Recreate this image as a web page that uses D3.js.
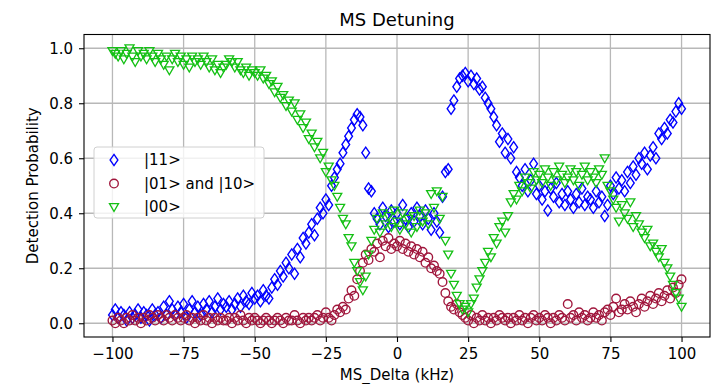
<!DOCTYPE html>
<html>
<head>
<meta charset="utf-8">
<script src="https://cdn.jsdelivr.net/npm/d3@7"></script>
<style>
	body { margin: 0; background: #fff; }
	text { font-family: "DejaVu Sans", sans-serif; fill: #000; }
</style>
</head>
<body>
<div id="chartDiv"></div>
<script>

// Detuning sweep (kHz), one point per kHz:
var detuning = [
	-100, -99, -98, -97, -96, -95, -94, -93, -92, -91, -90, -89, -88, -87, -86, -85, -84, -83, -82, -81,
	-80, -79, -78, -77, -76, -75, -74, -73, -72, -71, -70, -69, -68, -67, -66, -65, -64, -63, -62, -61,
	-60, -59, -58, -57, -56, -55, -54, -53, -52, -51, -50, -49, -48, -47, -46, -45, -44, -43, -42, -41,
	-40, -39, -38, -37, -36, -35, -34, -33, -32, -31, -30, -29, -28, -27, -26, -25, -24, -23, -22, -21,
	-20, -19, -18, -17, -16, -15, -14, -13, -12, -11, -10, -9, -8, -7, -6, -5, -4, -3, -2, -1,
	0, 1, 2, 3, 4, 5, 6, 7, 8, 9, 10, 11, 12, 13, 14, 15, 16, 17, 18, 19,
	20, 21, 22, 23, 24, 25, 26, 27, 28, 29, 30, 31, 32, 33, 34, 35, 36, 37, 38, 39,
	40, 41, 42, 43, 44, 45, 46, 47, 48, 49, 50, 51, 52, 53, 54, 55, 56, 57, 58, 59,
	60, 61, 62, 63, 64, 65, 66, 67, 68, 69, 70, 71, 72, 73, 74, 75, 76, 77, 78, 79,
	80, 81, 82, 83, 84, 85, 86, 87, 88, 89, 90, 91, 92, 93, 94, 95, 96, 97, 98, 99,
	100
];

// |11>
var p11 = [
	0.03, 0.05, 0.02, 0.04, 0.03, 0.01, 0.04, 0.02, 0.03, 0.05,
	0.02, 0.04, 0.03, 0.01, 0.05, 0.03, 0.04, 0.02, 0.06, 0.03,
	0.08, 0.05, 0.03, 0.06, 0.04, 0.07, 0.02, 0.05, 0.08, 0.04,
	0.06, 0.03, 0.07, 0.05, 0.08, 0.04, 0.06, 0.09, 0.05, 0.07,
	0.06, 0.08, 0.05, 0.07, 0.09, 0.06, 0.10, 0.08, 0.07, 0.11,
	0.09, 0.10, 0.08, 0.12, 0.10, 0.09, 0.13, 0.16, 0.14, 0.19,
	0.17, 0.22, 0.20, 0.25, 0.18, 0.27, 0.24, 0.31, 0.29, 0.33,
	0.36, 0.32, 0.38, 0.42, 0.40, 0.45, 0.43, 0.50, 0.53, 0.56,
	0.58, 0.62, 0.65, 0.68, 0.71, 0.74, 0.76, 0.75, 0.72, 0.62,
	0.49, 0.48, 0.40, 0.38, 0.36, 0.42, 0.39, 0.35, 0.41, 0.37,
	0.40, 0.36, 0.43, 0.38, 0.35, 0.40, 0.37, 0.42, 0.39, 0.36,
	0.41, 0.38, 0.34, 0.40, 0.37, 0.33, 0.46, 0.55, 0.56, 0.78,
	0.81, 0.86, 0.89, 0.90, 0.91, 0.88, 0.90, 0.87, 0.89, 0.85,
	0.86, 0.82, 0.80, 0.78, 0.75, 0.72, 0.66, 0.69, 0.62, 0.67,
	0.60, 0.64, 0.55, 0.53, 0.50, 0.56, 0.48, 0.52, 0.58, 0.47,
	0.50, 0.45, 0.48, 0.41, 0.49, 0.46, 0.51, 0.44, 0.47, 0.43,
	0.48, 0.45, 0.42, 0.47, 0.44, 0.49, 0.43, 0.46, 0.45, 0.42,
	0.48, 0.44, 0.46, 0.39, 0.43, 0.50, 0.47, 0.53, 0.49, 0.52,
	0.48, 0.55, 0.51, 0.57, 0.54, 0.60, 0.58, 0.62, 0.56, 0.61,
	0.64, 0.60, 0.69, 0.67, 0.71, 0.69, 0.74, 0.73, 0.77, 0.80,
	0.78
];

// |01> and |10>
var p01 = [
	0.01, 0.00, 0.02, 0.01, 0.00, 0.02, 0.01, 0.03, 0.01, 0.02,
	0.00, 0.02, 0.01, 0.03, 0.02, 0.01, 0.03, 0.02, 0.01, 0.03,
	0.02, 0.01, 0.03, 0.02, 0.01, 0.02, 0.03, 0.01, 0.02, 0.00,
	0.02, 0.01, 0.03, 0.01, 0.02, 0.00, 0.02, 0.01, 0.02, 0.01,
	0.01, 0.02, 0.00, 0.02, 0.01, 0.03, 0.01, 0.00, 0.02, 0.01,
	0.02, 0.01, 0.00, 0.01, 0.02, 0.01, 0.00, 0.01, 0.02, 0.01,
	0.00, 0.02, 0.01, 0.01, 0.03, 0.01, 0.00, 0.02, 0.01, 0.02,
	0.01, 0.02, 0.03, 0.01, 0.02, 0.04, 0.02, 0.01, 0.03, 0.05,
	0.04, 0.06, 0.05, 0.09, 0.12, 0.10, 0.16, 0.19, 0.22, 0.25,
	0.23, 0.27, 0.26, 0.29, 0.24, 0.30, 0.28, 0.31, 0.27, 0.29,
	0.28, 0.30, 0.27, 0.29, 0.26, 0.28, 0.25, 0.27, 0.24, 0.26,
	0.22, 0.24, 0.20, 0.21, 0.19, 0.18, 0.15, 0.11, 0.08, 0.06,
	0.05, 0.07, 0.04, 0.03, 0.02, 0.01, 0.03, 0.00, 0.02, 0.01,
	0.03, 0.01, 0.02, 0.00, 0.02, 0.01, 0.03, 0.02, 0.01, 0.02,
	0.00, 0.02, 0.01, 0.03, 0.01, 0.02, 0.00, 0.02, 0.03, 0.01,
	0.02, 0.01, 0.03, 0.02, 0.00, 0.02, 0.01, 0.03, 0.02, 0.01,
	0.07, 0.02, 0.03, 0.01, 0.04, 0.02, 0.03, 0.01, 0.02, 0.04,
	0.02, 0.03, 0.01, 0.04, 0.05, 0.03, 0.06, 0.09, 0.04, 0.05,
	0.07, 0.05, 0.08, 0.06, 0.04, 0.07, 0.09, 0.06, 0.08, 0.10,
	0.07, 0.09, 0.11, 0.08, 0.10, 0.12, 0.09, 0.13, 0.11, 0.14,
	0.16
];

// |00>
var p00 = [
	0.99, 0.98, 0.97, 0.99, 0.96, 0.98, 1.00, 0.97, 0.95, 0.99,
	0.97, 0.98, 0.96, 0.99, 0.97, 0.95, 0.98, 0.96, 0.94, 0.97,
	0.92, 0.96, 0.98, 0.95, 0.97, 0.94, 0.96, 0.93, 0.97, 0.95,
	0.96, 0.94, 0.97, 0.95, 0.93, 0.96, 0.92, 0.94, 0.91, 0.93,
	0.94, 0.96, 0.95, 0.93, 0.95, 0.92, 0.91, 0.93, 0.90, 0.92,
	0.91, 0.90, 0.92, 0.89, 0.90, 0.87, 0.88, 0.84, 0.86, 0.82,
	0.83, 0.79, 0.81, 0.77, 0.80, 0.74, 0.76, 0.71, 0.73, 0.67,
	0.69, 0.64, 0.66, 0.60, 0.62, 0.55, 0.57, 0.52, 0.50, 0.46,
	0.42, 0.38, 0.36, 0.31, 0.28, 0.22, 0.19, 0.15, 0.12, 0.17,
	0.25, 0.30, 0.34, 0.38, 0.33, 0.40, 0.36, 0.39, 0.35, 0.41,
	0.37, 0.34, 0.40, 0.36, 0.38, 0.33, 0.39, 0.35, 0.41, 0.37,
	0.40, 0.36, 0.47, 0.42, 0.48, 0.38, 0.46, 0.30, 0.25, 0.18,
	0.14, 0.10, 0.07, 0.05, 0.06, 0.04, 0.07, 0.09, 0.13, 0.16,
	0.19, 0.22, 0.26, 0.24, 0.31, 0.29, 0.35, 0.37, 0.33, 0.39,
	0.44, 0.47, 0.45, 0.50, 0.48, 0.53, 0.51, 0.49, 0.55, 0.52,
	0.54, 0.51, 0.56, 0.53, 0.50, 0.55, 0.52, 0.57, 0.54, 0.51,
	0.53, 0.56, 0.52, 0.55, 0.50, 0.54, 0.57, 0.52, 0.55, 0.53,
	0.51, 0.56, 0.54, 0.60, 0.50, 0.48, 0.45, 0.42, 0.37, 0.43,
	0.40, 0.38, 0.44, 0.35, 0.39, 0.36, 0.33, 0.31, 0.34, 0.28,
	0.29, 0.26, 0.24, 0.27, 0.22, 0.20, 0.17, 0.14, 0.11, 0.09,
	0.06
];

var seriesNames  = ["|11>", "|01> and |10>", "|00>"];
var seriesColors = ["#0000ff", "#a0163c", "#14c014"];
var xTicks       = [-100, -75, -50, -25, 0, 25, 50, 75, 100];
var yTicks       = [0.0, 0.2, 0.4, 0.6, 0.8, 1.0];

var WIDTH  = 724;
var HEIGHT = 384;
// Axes box, in pixels:
var PLOT_LEFT   = 84;
var PLOT_RIGHT  = 710;
var PLOT_TOP    = 34.5;
var PLOT_BOTTOM = 337;
var MARKER_STROKE = 1.35;

var svg = d3.select("#chartDiv").append("svg")
	.attr("width", WIDTH)
	.attr("height", HEIGHT);

// matplotlib-style 5% margins around the data
var xScale = d3.scaleLinear().domain([-110, 110]).range([PLOT_LEFT, PLOT_RIGHT]);
var yScale = d3.scaleLinear().domain([-0.05, 1.05]).range([PLOT_BOTTOM, PLOT_TOP]);

/*---------------------------
| marker shapes
-----------------*/

var markerPath = function(kind) {
	if (kind === 0) {
		// thin diamond
		return "M0,-5.6L3.9,0L0,5.6L-3.9,0Z";
	} else if (kind === 1) {
		return d3.arc()({innerRadius: 0, outerRadius: 4.3, startAngle: 0, endAngle: 2 * Math.PI});
	}
	// triangle pointing down
	return "M-4.5,-3.4L4.5,-3.4L0,4.5Z";
};

/*---------------------------
| grid and axes
-----------------*/

svg.append("g")
	.selectAll("line.vgrid")
	.data(xTicks).join("line")
	  .attr("x1", d => xScale(d)).attr("x2", d => xScale(d))
	  .attr("y1", PLOT_TOP).attr("y2", PLOT_BOTTOM)
	  .attr("stroke", "#b8b8b8").attr("stroke-width", 1.3);

svg.append("g")
	.selectAll("line.hgrid")
	.data(yTicks).join("line")
	  .attr("x1", PLOT_LEFT).attr("x2", PLOT_RIGHT)
	  .attr("y1", d => yScale(d)).attr("y2", d => yScale(d))
	  .attr("stroke", "#b8b8b8").attr("stroke-width", 1.3);

var xAxis = svg.append("g")
	.attr("transform", `translate(0,${PLOT_BOTTOM})`)
	.call(d3.axisBottom(xScale).tickValues(xTicks).tickSize(5).tickPadding(6).tickSizeOuter(0));

var yAxis = svg.append("g")
	.attr("transform", `translate(${PLOT_LEFT},0)`)
	.call(d3.axisLeft(yScale).tickValues(yTicks).tickFormat(d3.format(".1f")).tickSize(5).tickPadding(6).tickSizeOuter(0));

[xAxis, yAxis].forEach(function(ax) {
	ax.select(".domain").remove();
	ax.selectAll("text").style("font-size", "15px").attr("font-family", "DejaVu Sans");
	ax.selectAll("line").attr("stroke", "#000").attr("stroke-width", 1.1);
});

/*---------------------------
| data points
-----------------*/

var allSeries = [p11, p01, p00];

allSeries.forEach(function(values, i) {
	svg.append("g")
		.attr("class", "series" + i)
		.selectAll("path")
		.data(values.map((v, j) => [detuning[j], v]))
		.join("path")
		  .attr("d", markerPath(i))
		  .attr("transform", d => `translate(${xScale(d[0])},${yScale(d[1])})`)
		  .attr("fill", "none")
		  .attr("stroke", seriesColors[i])
		  .attr("stroke-width", MARKER_STROKE);
});

// Frame on top of everything:
svg.append("rect")
	.attr("x", PLOT_LEFT).attr("y", PLOT_TOP)
	.attr("width", PLOT_RIGHT - PLOT_LEFT)
	.attr("height", PLOT_BOTTOM - PLOT_TOP)
	.attr("fill", "none")
	.attr("stroke", "#000")
	.attr("stroke-width", 1.1);

/*---------------------------
| legend
-----------------*/

var legend = svg.append("g");

legend.append("rect")
	.attr("x", 94).attr("y", 147)
	.attr("width", 170).attr("height", 71)
	.attr("rx", 3)
	.attr("fill", "#fff").attr("fill-opacity", 0.8)
	.attr("stroke", "#d0d0d0");

seriesNames.forEach(function(name, i) {
	let yPos = 160 + i * 23.5;
	legend.append("path")
		.attr("d", markerPath(i))
		.attr("transform", `translate(114,${yPos})`)
		.attr("fill", "none")
		.attr("stroke", seriesColors[i])
		.attr("stroke-width", MARKER_STROKE);
	legend.append("text")
		.attr("x", 144).attr("y", yPos)
		.attr("dy", "0.36em")
		.style("font-size", "15px")
		.text(name);
});

/*---------------------------
| titles
-----------------*/

svg.append("text")
	.attr("x", (PLOT_LEFT + PLOT_RIGHT) / 2).attr("y", 26)
	.attr("text-anchor", "middle")
	.style("font-size", "18px")
	.text("MS Detuning");

svg.append("text")
	.attr("x", (PLOT_LEFT + PLOT_RIGHT) / 2).attr("y", 380)
	.attr("text-anchor", "middle")
	.style("font-size", "15px")
	.text("MS_Delta (kHz)");

svg.append("text")
	.attr("transform", `translate(38,${(PLOT_TOP + PLOT_BOTTOM) / 2}) rotate(-90)`)
	.attr("text-anchor", "middle")
	.style("font-size", "15px")
	.text("Detection Probability");

</script>
</body>
</html>
